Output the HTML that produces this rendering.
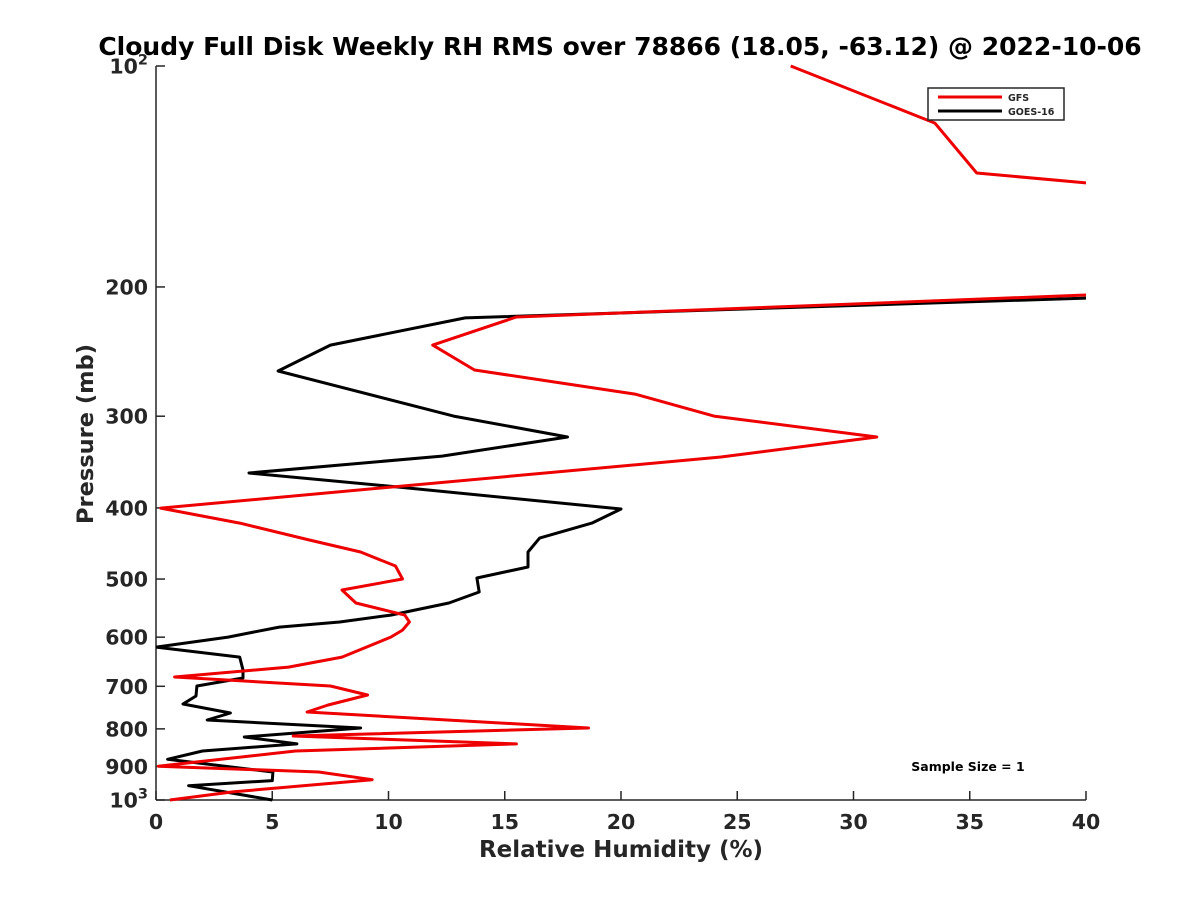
<!DOCTYPE html>
<html><head><meta charset="utf-8"><style>
body{margin:0;background:#fff;}
svg text{font-family:"DejaVu Sans","Liberation Sans",sans-serif;font-weight:bold;fill:#262626;}
</style></head><body>
<svg id="chart" width="1200" height="900" xmlns="http://www.w3.org/2000/svg">
<defs><clipPath id="plotclip"><rect x="156" y="60" width="930" height="745"/></clipPath></defs>
<text x="620" y="55" text-anchor="middle" font-size="25" style="fill:#000">Cloudy Full Disk Weekly RH RMS over 78866 (18.05, -63.12) @ 2022-10-06</text>
<g id="axes"></g>
<g id="series" clip-path="url(#plotclip)"></g>
<g>
<rect x="928" y="88" width="136" height="32" fill="#fff" stroke="#262626" stroke-width="1.5"/>
<line x1="938" y1="97" x2="1002" y2="97" stroke="#e00" stroke-width="3"/>
<text x="1008" y="101" font-size="9.5">GFS</text>
<line x1="938" y1="111" x2="1002" y2="111" stroke="#000" stroke-width="3"/>
<text x="1008" y="115" font-size="9.5">GOES-16</text>
</g>
<text x="968" y="771" text-anchor="middle" font-size="12.5" style="fill:#000">Sample Size = 1</text>
<text x="621" y="857" text-anchor="middle" font-size="23">Relative Humidity (%)</text>
<text x="0" y="0" transform="translate(93,434) rotate(-90)" text-anchor="middle" font-size="22.5">Pressure (mb)</text>
</svg>
<script>
const xTicks=[0,5,10,15,20,25,30,35,40];
const yTicks=[100,200,300,400,500,600,700,800,900,1000];
const yTickLabels=["10|2","200","300","400","500","600","700","800","900","10|3"];
const gfsPressure=[100,119.6,139.9,144.3,148,203,205.1,219.8,240,259.5,279.9,299.9,320.2,341,400.2,419.5,442.4,459.3,480,500,517.5,539,559.8,572.2,586.8,599.8,638.7,659,679.9,699.4,719.4,742.3,758.7,797.9,818,838.7,857.5,899.3,915.8,938.4,975,1000];
const gfsRH=[27.3,33.5,35.3,40,46,46,40,15.5,11.9,13.7,20.6,24,31,24.3,0.2,3.6,6.6,8.8,10.3,10.6,8,8.6,10.7,10.9,10.6,10.1,8,5.7,0.8,7.5,9.1,7.4,6.5,18.6,5.9,15.5,6,0.1,7,9.3,3.3,0.6];
const goesPressure=[204,207.1,220.4,240,260.3,299.9,320.2,340,358.5,374.6,401.4,419.5,439.7,459.3,481.5,498.4,520.8,539,559.8,572.2,581.3,599.8,619,638.7,665.2,682.1,699.4,721.7,740,761.2,778,797.9,820.6,838.7,857.5,880,915.8,941,956,1000];
const goesRH=[46,40,13.3,7.5,5.25,12.8,17.7,12.3,4.0,10.4,20.0,18.75,16.5,16,16,13.8,13.9,12.6,10.1,7.9,5.3,3.1,0,3.6,3.74,3.74,1.76,1.72,1.16,3.2,2.2,8.8,3.8,6.06,2.0,0.5,5.03,5.0,1.4,5.0];
const X0=156,X1=1086,Y0=66,Y1=800;
function xs(v){return X0+(v-0)/40*(X1-X0);}
function ys(p){return Y0+(Math.log10(p)-2)*(Y1-Y0);}
const NS="http://www.w3.org/2000/svg";
const axes=document.getElementById('axes');
function mk(tag,attrs,parent){const e=document.createElementNS(NS,tag);for(const k in attrs)e.setAttribute(k,attrs[k]);parent.appendChild(e);return e;}
const xa=mk('line',{x1:X0,y1:Y1,x2:X1,y2:Y1,stroke:'#262626','stroke-width':1.5},axes);


const ya=mk('line',{x1:X0,y1:Y0,x2:X0,y2:Y1,stroke:'#262626','stroke-width':1.5},axes);


xTicks.forEach(v=>{
  const t=mk('line',{x1:xs(v),y1:Y1,x2:xs(v),y2:Y1-9,stroke:'#262626','stroke-width':1.5},axes);
  
  
  const l=mk('text',{x:xs(v),y:Y1+29,'text-anchor':'middle','font-size':20.5},axes);
  l.textContent=v;
  
  
});
yTicks.forEach((p,i)=>{
  const t=mk('line',{x1:X0,y1:ys(p),x2:X0+9,y2:ys(p),stroke:'#262626','stroke-width':1.5},axes);
  
  
  const l=mk('text',{x:X0-8,y:ys(p)+7.5,'text-anchor':'end','font-size':20.5},axes);
  const lab=yTickLabels[i];
  if(lab.indexOf('|')>=0){
    const parts=lab.split('|');
    const a=mk('tspan',{},l);a.textContent=parts[0];
    const b=mk('tspan',{dy:-9,'font-size':14.5},l);b.textContent=parts[1];
  } else l.textContent=lab;
  
  
});
const sg=document.getElementById('series');
function line(pr,vals,color,name){
  const pts=pr.map((p,i)=>xs(vals[i]).toFixed(1)+','+ys(p).toFixed(1)).join(' ');
  const pl=mk('polyline',{points:pts,fill:'none',stroke:color,'stroke-width':3,'stroke-linejoin':'round'},sg);
  
  
}
line(goesPressure,goesRH,'#000','goes16-line');
line(gfsPressure,gfsRH,'#e00','gfs-line');
</script>
</body></html>
